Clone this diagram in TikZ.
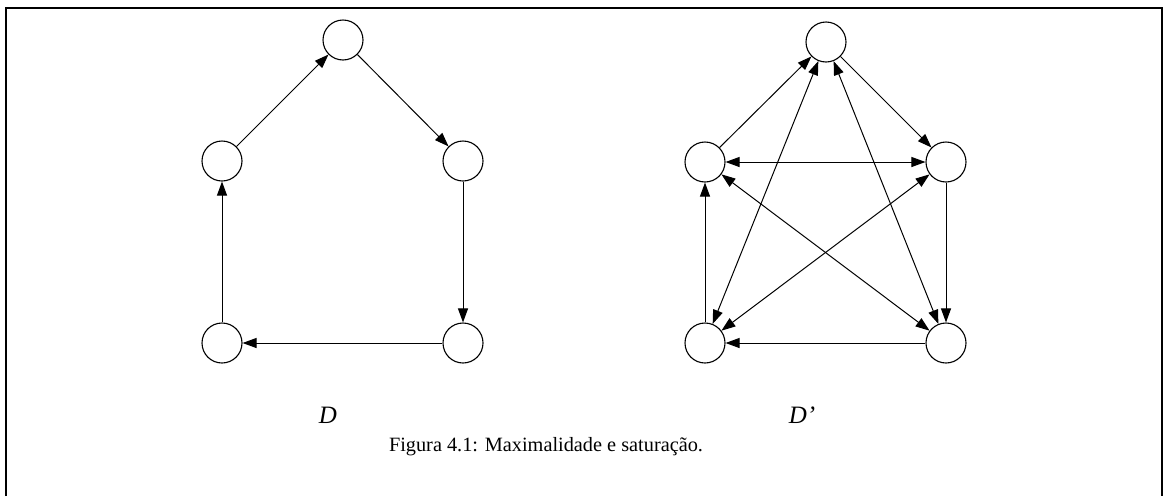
\documentclass[tikz,border=0pt]{standalone}
\usepackage{fontspec}
\setmainfont{Liberation Serif}
\usetikzlibrary{arrows.meta}

\begin{document}
\begin{tikzpicture}[x=1pt,y=-1pt,
    vertex/.style={circle,draw,line width=1.1pt,minimum size=40pt,inner sep=0pt},
    arc/.style={line width=1pt,-{Triangle[length=14pt,width=10pt]}},
    twoway/.style={line width=1pt,{Triangle[length=14pt,width=10pt]}-{Triangle[length=14pt,width=10pt]}}]
      \useasboundingbox (0,0) rectangle (1170,496);
      \draw[line width=1.8pt] (6,496) -- (6,8) -- (1162,8) -- (1162,496);

      % digraph D
      \node[vertex] (lT) at (343,40) {};
      \node[vertex] (lL) at (222,161) {};
      \node[vertex] (lR) at (463,161) {};
      \node[vertex] (lBL) at (222,343) {};
      \node[vertex] (lBR) at (463,343) {};

      \draw[arc] (lL) -- (lT);
      \draw[arc] (lT) -- (lR);
      \draw[arc] (lR) -- (lBR);
      \draw[arc] (lBR) -- (lBL);
      \draw[arc] (lBL) -- (lL);

      % digraph D'
      \node[vertex] (rT) at (826,42) {};
      \node[vertex] (rL) at (705,162) {};
      \node[vertex] (rR) at (946,162) {};
      \node[vertex] (rBL) at (705,343) {};
      \node[vertex] (rBR) at (946,343) {};

      \draw[arc] (rL) -- (rT);
      \draw[arc] (rT) -- (rR);
      \draw[arc] (rR) -- (rBR);
      \draw[arc] (rBR) -- (rBL);
      \draw[arc] (rBL) -- (rL);
      \draw[twoway] (rL) -- (rR);
      \draw[twoway] (rT) -- (rBL);
      \draw[twoway] (rT) -- (rBR);
      \draw[twoway] (rL) -- (rBR);
      \draw[twoway] (rR) -- (rBL);

      \node (labD) at (328,415) {\fontsize{25}{30}\selectfont\itshape D};
      \node (labDp) at (802,415) {\fontsize{25}{30}\selectfont\itshape D'};
      \node (caption) at (546,447) {\fontsize{20.3}{24}\selectfont Figura 4.1: Maximalidade e saturação.};
\end{tikzpicture}
\end{document}
